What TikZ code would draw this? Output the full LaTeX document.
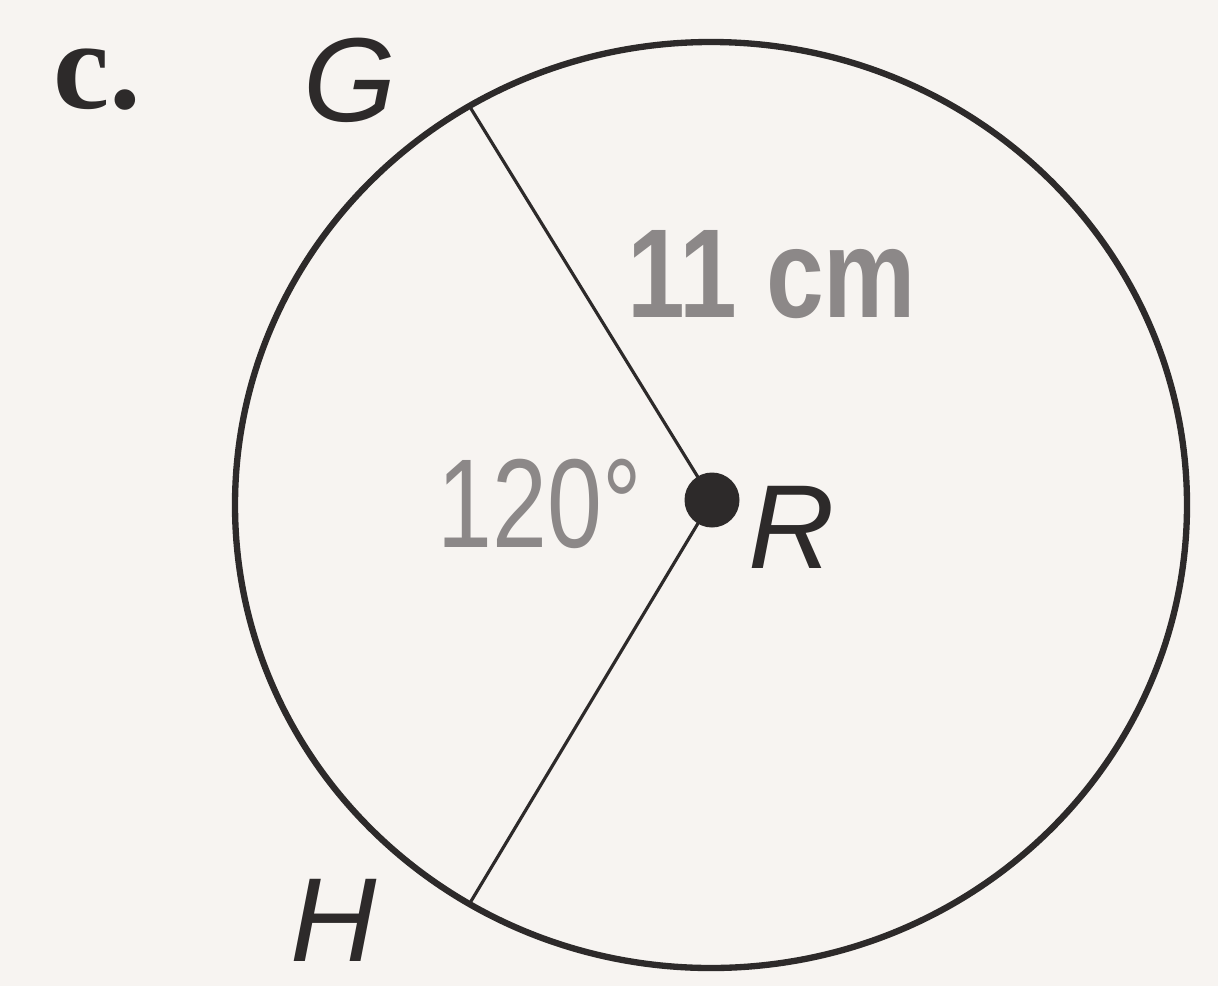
\documentclass[tikz,border=0pt]{standalone}
\usepackage{fontspec}
\setmainfont{Liberation Serif}
\setsansfont{Liberation Sans}
\definecolor{paper}{RGB}{247,244,241}
\definecolor{ink}{RGB}{45,42,42}
\definecolor{lbl}{RGB}{140,136,136}
\tikzset{
  pt/.style={font=\sffamily\itshape\fontsize{34}{34}\selectfont,text=ink,inner sep=0pt,anchor=base},
  meas/.style={font=\sffamily\fontsize{36}{36}\selectfont,text=lbl,inner sep=0pt,anchor=base}
}
\begin{document}
\begin{tikzpicture}
\useasboundingbox[fill=paper] (0,0) rectangle (12.18,9.86);
\draw[ink,line width=1.8pt] (7.11,4.81) ellipse [x radius=4.76,y radius=4.63];
\coordinate (G) at ([shift={(7.11,4.81)}]120.5:4.76 and 4.63);
\coordinate (H) at ([shift={(7.11,4.81)}]239.5:4.76 and 4.63);
\node[circle,fill=ink,inner sep=0pt,minimum size=0.55cm] (R) at (7.12,4.86) {};
\draw[ink,line width=0.9pt] (G) -- (R.center) -- (H);
\node[font=\bfseries\fontsize{36}{36}\selectfont,text=ink,inner sep=0pt,anchor=base] (part) at (0.97,8.78) {c.};
\node[pt] (lG) at (3.50,8.65) {G};
\node[pt] (lR) at (7.92,4.18) {R};
\node[pt] (lH) at (3.34,0.25) {H};
\node[meas,font=\sffamily\bfseries\fontsize{36}{36}\selectfont] (len) at (7.72,6.69) {\scalebox{0.82}[1]{11 cm}};
\node[meas] (ang) at (5.40,4.39) {\scalebox{0.78}[1]{120°}};
\end{tikzpicture}
\end{document}
